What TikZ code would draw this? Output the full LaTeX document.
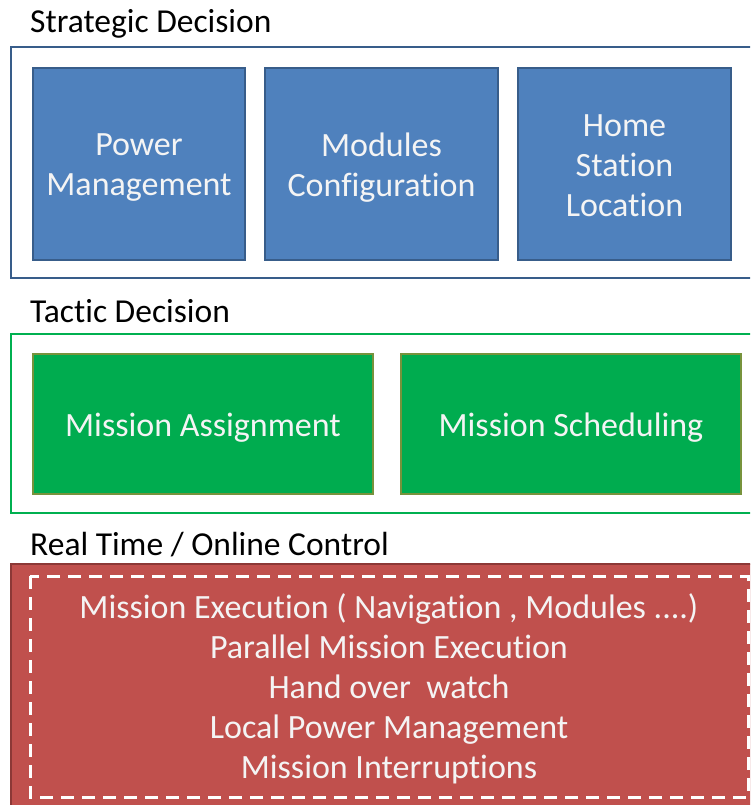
\documentclass[tikz,border=0pt]{standalone}
\usepackage{fontspec}
\setmainfont[Ligatures=NoCommon]{Carlito}
\definecolor{sblue}{HTML}{4F81BD}
\definecolor{sblueb}{HTML}{385D8A}
\definecolor{tgreen}{HTML}{00AC4F}
\definecolor{tgreenb}{HTML}{77933C}
\definecolor{fgreen}{HTML}{00B050}
\definecolor{rred}{HTML}{C0504D}
\definecolor{rredb}{HTML}{8C3836}
\definecolor{ltext}{HTML}{F4F4F4}
\begin{document}
\begin{tikzpicture}[x=1pt,y=-1pt,
  heading/.style={anchor=base west,inner sep=0pt,font=\fontsize{33.5}{38}\selectfont,text=black},
  bluebox/.style={draw=sblueb,fill=sblue,line width=2pt},
  greenbox/.style={draw=tgreenb,fill=tgreen,line width=2pt},
  boxtext/.style={align=center,inner sep=0pt,text=ltext,font=\fontsize{34}{40}\selectfont},
  frame/.style={line width=2.5pt}]
\useasboundingbox (0,0) rectangle (750,805);
\clip (0,0) rectangle (750,805);
% Strategic
\node[heading] (hs) at (30,33) {Strategic Decision};
\draw[frame,draw=sblueb] (11,47) rectangle (770,278);
\draw[bluebox] (33,68) rectangle (245,260);
\draw[bluebox] (265,68) rectangle (498,260);
\draw[bluebox] (518,68) rectangle (731,260);
\node[boxtext] (pm) at (139,168) {Power\\Management};
\node[boxtext] (mc) at (381.5,168) {Modules\\Configuration};
\node[boxtext] (hl) at (624.5,166) {Home\\Station\\Location};
% Tactic
\node[heading] (ht) at (30,322) {Tactic Decision};
\draw[frame,draw=fgreen] (11,334) rectangle (770,513);
\draw[greenbox] (33,354) rectangle (373,494);
\draw[greenbox] (401,354) rectangle (741,494);
\node[boxtext] (ma) at (203,428) {Mission Assignment};
\node[boxtext] (ms) at (571,428) {Mission Scheduling};
% Real time
\node[heading] (hr) at (30,555) {Real Time / Online Control};
\draw[fill=rred,draw=rredb,line width=2pt] (11,564) rectangle (770,830);
\draw[draw=white,line width=3pt,dash pattern=on 13pt off 8pt] (30,576) rectangle (748,797);
\node[boxtext] (rt) at (389,689) {Mission Execution ( Navigation , Modules ....)\\Parallel Mission Execution\\Hand over\ \ watch\\Local Power Management\\Mission Interruptions};
\end{tikzpicture}
\end{document}
